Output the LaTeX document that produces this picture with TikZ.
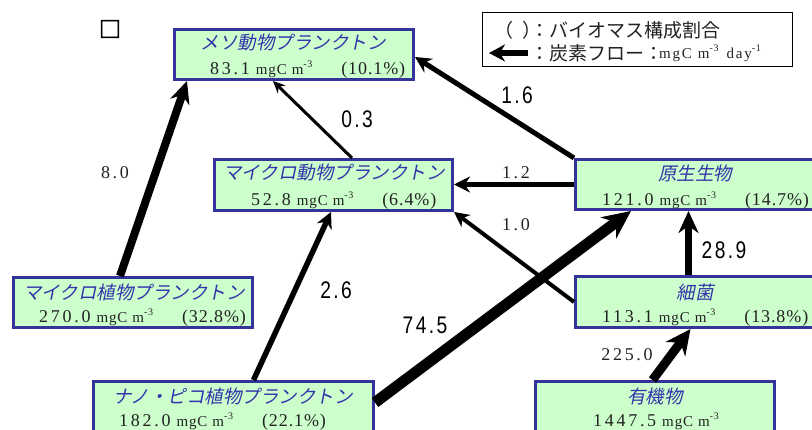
\documentclass[tikz,border=0pt]{standalone}
\usepackage{fontspec}
\usetikzlibrary{arrows.meta}
\setmainfont{Liberation Serif}
\newfontfamily\jpfont{Noto Sans CJK JP}
\newfontfamily\sqfont{Noto Sans CJK JP}[FakeBold=3]
\newfontfamily\jpitfont{Noto Sans CJK JP}[FakeSlant=0.2]
\newfontfamily\numfont{Liberation Serif}[LetterSpace=15]
\newfontfamily\pctfont{Liberation Serif}[LetterSpace=5]
\newfontfamily\unitfont{Liberation Serif}[LetterSpace=6]
\newfontfamily\lunitfont{Liberation Serif}[LetterSpace=12]
\newfontfamily\lblfont{Liberation Sans}[FakeStretch=0.8,LetterSpace=10]
\definecolor{boxfill}{HTML}{CCFFCC}
\definecolor{boxline}{HTML}{333399}
\definecolor{titleblue}{HTML}{3333AA}
\definecolor{txtgray}{HTML}{222222}
\newcommand\amount[1]{{\numfont\fontsize{18}{18}\selectfont #1}}
\newcommand\pct[1]{{\pctfont\fontsize{18}{18}\selectfont #1}}
\newcommand\supx[1]{\raisebox{7pt}{\unitfont\fontsize{10}{10}\selectfont #1}}
\newcommand\unitm{{\unitfont\fontsize{15}{15}\selectfont mgC\hspace{5pt}m}\supx{-3}}
\newcommand\valline[2]{\amount{#1}\hspace{6pt}\unitm\hspace{29pt}\pct{#2}}
\tikzset{
  box/.style={draw=boxline, fill=boxfill, line width=3pt, rectangle, inner sep=0pt},
  ttl/.style={font=\jpitfont\fontsize{18.5}{18.5}\selectfont, text=titleblue, inner sep=0pt},
  val/.style={inner sep=0pt, anchor=base west, text=txtgray},
  slbl/.style={font=\numfont\fontsize{18}{18}\selectfont, inner sep=0pt, text=txtgray},
  lbl/.style={font=\lblfont\fontsize{24}{24}\selectfont, inner sep=0pt},
  leg/.style={font=\jpfont\fontsize{19}{19}\selectfont, inner sep=0pt, anchor=west, text=txtgray},
  arrowhd/.style 2 args={-{Stealth[length=#1,width=#2]}}
}
\begin{document}
\begin{tikzpicture}[x=1pt,y=-1pt]
\useasboundingbox (0,0) rectangle (812,430);
\clip (0,0) rectangle (812,430);
% square mark
\node[inner sep=0pt, font=\sqfont\fontsize{22}{22}\selectfont] (sq) at (110,29) {□};
% boxes
\node[box, minimum width=239pt, minimum height=50pt] (meso) at (294,54.5) {};
\node[box, minimum width=238pt, minimum height=51pt] (mzoo) at (333.5,185) {};
\node[box, minimum width=239pt, minimum height=50pt] (proto) at (695,184.5) {};
\node[box, minimum width=239pt, minimum height=50pt] (mphyto) at (133,302.5) {};
\node[box, minimum width=239pt, minimum height=51pt] (bact) at (695,302) {};
\node[box, minimum width=280pt, minimum height=50pt] (nano) at (233.5,406.5) {};
\node[box, minimum width=239pt, minimum height=50pt] (org) at (655,406.5) {};
% titles
\node[ttl] (t1) at (293,43) {メソ動物プランクトン};
\node[ttl] (t2) at (334,173) {マイクロ動物プランクトン};
\node[ttl] (t3) at (695,173) {原生生物};
\node[ttl] (t4) at (134,292) {マイクロ植物プランクトン};
\node[ttl] (t5) at (695,292) {細菌};
\node[ttl] (t6) at (233,396) {ナノ・ピコ植物プランクトン};
\node[ttl] (t7) at (655,396) {有機物};
% values
\node[val] (v1) at (210,75) {\valline{83.1}{(10.1\%)}};
\node[val] (v2) at (251,206) {\valline{52.8}{(6.4\%)}};
\node[val] (v3) at (602,206) {\valline{121.0}{(14.7\%)}};
\node[val] (v4) at (39,323) {\valline{270.0}{(32.8\%)}};
\node[val] (v5) at (602,323) {\valline{113.1}{(13.8\%)}};
\node[val] (v6) at (119,427) {\valline{182.0}{(22.1\%)}};
\node[val] (v7) at (593,427) {\amount{1447.5}\hspace{6pt}\unitm};
% legend
\node[draw=black, line width=1.5pt, minimum width=310pt, minimum height=54pt, inner sep=0pt] (legend) at (637.5,39.5) {};
\node[leg] (lg1) at (494,30) {（\hspace{9pt}）};
\node[leg] (lg2) at (530.5,30) {：バイオマス構成割合};
\node[leg] (lg3) at (530.5,53) {：炭素フロー：};
\node[inner sep=0pt, anchor=base west, text=txtgray] (lg4) at (659,59) {{\lunitfont\fontsize{15}{15}\selectfont mgC\hspace{6pt}m}\supx{-3}\hspace{8pt}{\lunitfont\fontsize{15}{15}\selectfont day}\supx{-1}};
\coordinate (lga) at (528,53);
\coordinate (lgb) at (489,53);
\draw[line width=6pt, arrowhd={16pt}{17pt}] (lga) -- (lgb);
% arrows
\draw[line width=8pt, arrowhd={22pt}{20pt}] ([xshift=108pt]mphyto.north west) -- ([xshift=14pt]meso.south west);
\draw[line width=3pt, arrowhd={12pt}{11pt}] ([xshift=139pt]mzoo.north west) -- ([xshift=100pt]meso.south west);
\draw[line width=5pt, arrowhd={16pt}{16pt}] (proto.north west) -- ([yshift=-2.5pt]meso.east);
\draw[line width=5pt, arrowhd={16pt}{16pt}] (proto.west) -- (proto.west -| mzoo.east);
\draw[line width=4pt, arrowhd={15pt}{15pt}] (bact.west) -- (mzoo.south east);
\draw[line width=5.5pt, arrowhd={16pt}{16pt}] ([xshift=161.5pt]nano.north west) -- ([xshift=118pt]mzoo.south west);
\draw[line width=11pt, arrowhd={28pt}{26pt}] ([yshift=4pt]nano.east) -- ([xshift=57pt]proto.south west);
\draw[line width=6.5pt, arrowhd={22pt}{20pt}] ([xshift=114.5pt]bact.north west) -- ([xshift=114.5pt]proto.south west);
\draw[line width=9pt, arrowhd={25pt}{24pt}] ([xshift=118.5pt]org.north west) -- ([xshift=116.5pt]bact.south west);
% flow labels
\node[slbl] (l80) at (115,173) {8.0};
\node[lbl] (l03) at (357,119) {0.3};
\node[lbl] (l16) at (517,95) {1.6};
\node[slbl] (l12) at (516,173) {1.2};
\node[slbl] (l10) at (516,225) {1.0};
\node[lbl] (l289) at (724,250) {28.9};
\node[lbl] (l26) at (336,290) {2.6};
\node[lbl] (l745) at (425,325) {74.5};
\node[slbl] (l225) at (627,355) {225.0};
\end{tikzpicture}
\end{document}
